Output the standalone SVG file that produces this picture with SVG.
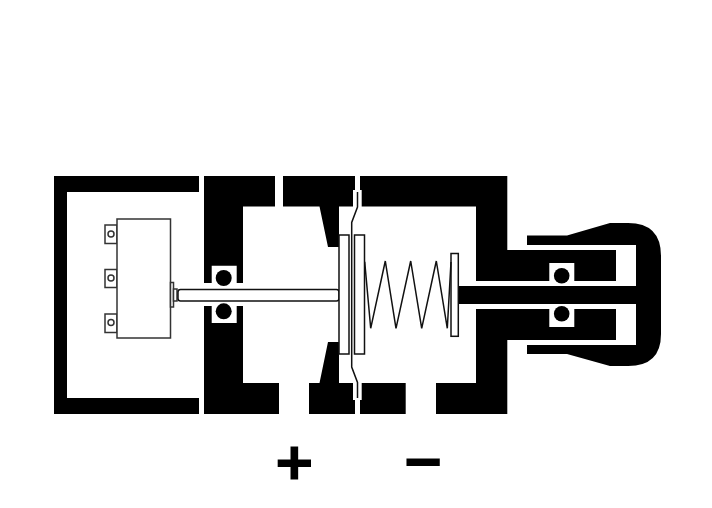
<svg xmlns="http://www.w3.org/2000/svg" width="712" height="508" viewBox="0 0 712 508">
<style>
.k{fill:#000}
.w{fill:#fff;stroke:#111;stroke-width:1.500}
.l{fill:none;stroke:#111;stroke-width:1.500}
.s{fill:#fff;stroke:#333;stroke-width:1.500}
.t{font-family:"Liberation Sans",Arial,sans-serif;font-size:62px;fill:#000;stroke:#000;stroke-width:3.200;text-anchor:middle}
</style>
<rect width="712" height="508" fill="#fff"/>
<g id="housing">
<path class="k" d="M54 176H199V192H67V398H199V414H54Z"/>
<path class="k" d="M204 176H275V206.500H243V283H236.700V265.700H211.700V283H204Z"/>
<path class="k" d="M204 306H211.700V323H236.700V306H243V383H279V414H204Z"/>
<path class="k" d="M283 176H355V190H353V206.500H339V247H328L319.500 206.500H283Z"/>
<path class="k" d="M309 383H319.500L328 342H339V383H353V400H355V414H309Z"/>
<path class="k" d="M360 176H507.300V250H616V281H574.300V263H549.300V281H476V206.500H361.700V190H360Z"/>
<path class="k" d="M476 309H549.300V327H574.300V309H616V340H507.300V414H436V383H476Z"/>
<path class="k" d="M361.700 383V400H360V414H405.700V383Z"/>
</g>
<g id="bearings">
<circle class="k" cx="223.700" cy="278" r="8"/>
<circle class="k" cx="223.700" cy="311.300" r="8"/>
<circle class="k" cx="561.700" cy="275.700" r="7.800"/>
<circle class="k" cx="561.700" cy="313.700" r="7.800"/>
</g>
<g id="handle">
<path class="k" d="M458 286H636V245H527V235.500H567L610 223H628Q661 223 661 256V334Q661 366 628 366H610L567 354H527V345H636V304H458Z"/>
</g>
<g id="switch">
<rect class="s" x="105" y="225" width="12" height="18.500"/>
<rect class="s" x="105" y="269.500" width="12" height="18"/>
<rect class="s" x="105" y="314" width="12" height="18.500"/>
<circle class="s" cx="111" cy="234" r="3"/>
<circle class="s" cx="111" cy="278" r="3"/>
<circle class="s" cx="111" cy="322.500" r="3"/>
<rect class="s" x="117" y="219" width="53.500" height="119"/>
<rect class="s" x="170.500" y="282.500" width="3" height="24.500"/>
<rect class="s" x="173.500" y="289" width="3.500" height="12"/>
</g>
<g id="shaft">
<rect class="w" x="178" y="289.500" width="161" height="11.500" rx="2.500"/>
</g>
<g id="plates">
<rect class="w" x="339" y="235" width="10" height="119"/>
<rect class="w" x="354.500" y="235" width="10" height="119"/>
<rect class="w" x="451" y="253.500" width="7.300" height="82.800"/>
</g>
<g id="diaphragm">
<path class="l" d="M357.500 192V207L351.700 222.500V367L357.500 382.500V398"/>
</g>
<g id="spring">
<path class="l" d="M364.700 261.700L370.700 328.300L385.300 261L396 328.300L410.700 261L421.700 328.300L436.300 261L447.300 328.300L451 262"/>
</g>
<g id="labels">
<text class="t" x="294.300" y="483">+</text>
<text class="t" x="423" y="483">−</text>
</g>
</svg>
